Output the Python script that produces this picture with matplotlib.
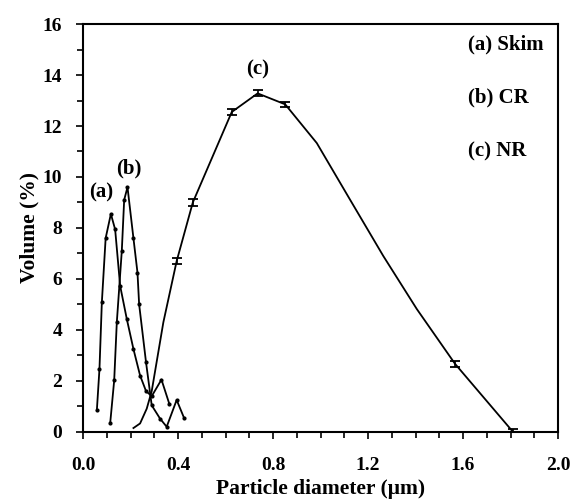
import matplotlib
matplotlib.use('Agg')
import matplotlib.pyplot as plt
from matplotlib.ticker import MultipleLocator, FormatStrFormatter

plt.rcParams['font.family'] = ['Liberation Serif', 'DejaVu Serif']
plt.rcParams['font.weight'] = 'bold'

# (a) Skim
skim_x = [0.058, 0.069, 0.079, 0.095, 0.117, 0.135, 0.156, 0.184, 0.212, 0.240, 0.265, 0.289, 0.330, 0.363]
skim_y = [0.85, 2.47, 5.08, 7.6, 8.55, 7.94, 5.73, 4.43, 3.25, 2.21, 1.6, 1.4, 2.05, 1.1]

# (b) CR
cr_x = [0.114, 0.131, 0.142, 0.163, 0.173, 0.187, 0.212, 0.229, 0.236, 0.265, 0.289, 0.324, 0.352, 0.394, 0.425]
cr_y = [0.33, 2.02, 4.3, 7.1, 9.1, 9.6, 7.6, 6.25, 5.0, 2.73, 1.04, 0.52, 0.2, 1.25, 0.55]

# (c) NR
nr_x = [0.212, 0.240, 0.268, 0.289, 0.338, 0.394, 0.462, 0.626, 0.735, 0.851, 0.984, 1.124, 1.264, 1.405, 1.566, 1.810]
nr_y = [0.15, 0.33, 0.91, 1.6, 4.3, 6.7, 9.0, 12.55, 13.28, 12.85, 11.33, 9.11, 6.9, 4.82, 2.67, 0.0]
nr_err = [0, 0, 0, 0, 0, 0.12, 0.12, 0.12, 0.12, 0.1, 0, 0, 0, 0, 0.12, 0.1]

fig = plt.figure(figsize=(5.73, 5.01), dpi=100)
ax = fig.add_axes([0.145, 0.138, 0.829, 0.814])

ax.plot(skim_x, skim_y, color='black', lw=1.3, marker='o', ms=2.0)
ax.plot(cr_x, cr_y, color='black', lw=1.3, marker='o', ms=2.0)
ax.plot(nr_x, nr_y, color='black', lw=1.3)
# error bars only where they were drawn
ex = [x for x, e in zip(nr_x, nr_err) if e > 0]
ey = [y for y, e in zip(nr_y, nr_err) if e > 0]
ee = [e for e in nr_err if e > 0]
ax.errorbar(ex, ey, yerr=ee, fmt='none', ecolor='black', capsize=3.5, elinewidth=1.2, capthick=1.3)

ax.text(0.076, 9.4, '(a)', fontsize=15, fontweight='bold', ha='center', va='center')
ax.text(0.192, 10.35, '(b)', fontsize=15, fontweight='bold', ha='center', va='center')
ax.text(0.733, 14.2, '(c)', fontsize=15, fontweight='bold', ha='center', va='center')

ax.text(1.62, 15.2, '(a) Skim', fontsize=15, fontweight='bold', va='center')
ax.text(1.62, 13.1, '(b) CR', fontsize=15, fontweight='bold', va='center')
ax.text(1.62, 11.0, '(c) NR', fontsize=15, fontweight='bold', va='center')

ax.set_xlim(0, 2.0)
ax.set_ylim(0, 16)
ax.xaxis.set_major_locator(MultipleLocator(0.4))
ax.xaxis.set_minor_locator(MultipleLocator(0.1))
ax.yaxis.set_major_locator(MultipleLocator(2))
ax.yaxis.set_minor_locator(MultipleLocator(1))
ax.xaxis.set_major_formatter(FormatStrFormatter('%.1f'))
ax.tick_params(which='both', direction='out', width=1.2, labelsize=14)
ax.tick_params(axis='x', which='major', length=5, pad=13)
ax.tick_params(axis='y', which='major', length=5, pad=10)
ax.tick_params(which='minor', length=4)
for s in ax.spines.values():
    s.set_linewidth(1.5)

ax.set_xlabel('Particle diameter (\u03bcm)', fontsize=15.5, fontweight='bold', labelpad=4)
ax.set_ylabel('Volume (%)', fontsize=15.5, fontweight='bold', labelpad=2)

fig.savefig('out.png', dpi=100)
